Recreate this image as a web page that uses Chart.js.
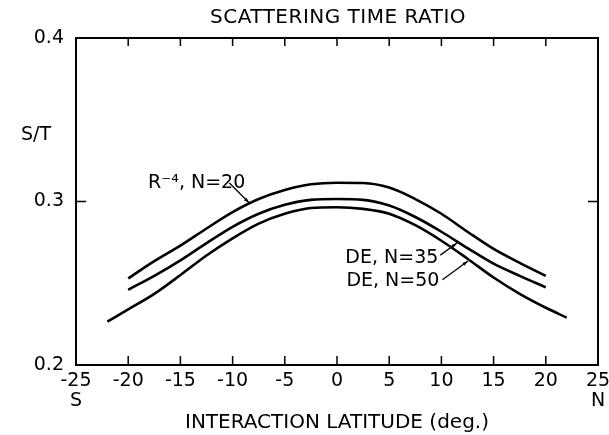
<!DOCTYPE html>
<html>
<head>
<meta charset="utf-8">
<script src="https://cdn.jsdelivr.net/npm/chart.js@4/dist/chart.umd.min.js"></script>
<style>
  html, body { margin: 0; padding: 0; background: #fff; }
  #wrap { width: 609px; height: 435px; }
</style>
</head>
<body>
<div id="wrap"><canvas id="chart" width="609" height="435"></canvas></div>
<script>
const latShort = [-20, -17.5, -15, -12.5, -10, -7.5, -5, -2.5, 0, 2.5, 5, 7.5, 10, 12.5, 15, 17.5, 20];
const latLong  = [-22, -20, -17.5, -15, -12.5, -10, -7.5, -5, -2.5, 0, 2.5, 5, 7.5, 10, 12.5, 15, 17.5, 20, 22];

// S/T
const r4N20 = [0.253, 0.2635, 0.273, 0.2835, 0.2935, 0.3015, 0.307, 0.3105, 0.3115, 0.3113, 0.3085, 0.3015, 0.2925, 0.2815, 0.271, 0.2625, 0.2545];
const deN35 = [0.246, 0.2545, 0.264, 0.2745, 0.2845, 0.2925, 0.298, 0.301, 0.3015, 0.301, 0.2975, 0.2905, 0.2815, 0.2715, 0.262, 0.2545, 0.2475];
const deN50 = [0.2265, 0.234, 0.2435, 0.255, 0.267, 0.2775, 0.2865, 0.2925, 0.296, 0.2965, 0.2955, 0.2925, 0.2855, 0.276, 0.265, 0.2535, 0.2435, 0.235, 0.229];

const xTicks = [-25, -20, -15, -10, -5, 0, 5, 10, 15, 20, 25];
const yTicks = [0.2, 0.3, 0.4];

// curve labels: text, left/middle of the text, pointer start and tip (data coords)
const curveLabels = [
  { text: 'R\u207B\u2074, N=20', at: [-18.1, 0.3113], from: [-10.3, 0.3113], tip: [-8.4, 0.2991] },
  { text: 'DE, N=35', at: [0.8, 0.2654], from: [9.9, 0.2672], tip: [11.5, 0.2746] },
  { text: 'DE, N=50', at: [0.9, 0.2514], from: [10.1, 0.2522], tip: [12.55, 0.2636] },
];

const FONT = '"DejaVu Sans", sans-serif';
const pts = (xs, ys) => xs.map((x, i) => ({ x, y: ys[i] }));

const figureDecor = {
  id: 'figureDecor',
  afterDraw(chart) {
    const { ctx, chartArea: a, scales: { x, y } } = chart;
    ctx.save();
    ctx.strokeStyle = '#000';
    ctx.fillStyle = '#000';

    // frame
    ctx.lineWidth = 2;
    ctx.strokeRect(a.left, a.top, a.right - a.left, a.bottom - a.top);

    // inward ticks
    ctx.lineWidth = 1.5;
    ctx.beginPath();
    xTicks.slice(1, -1).forEach(v => {
      const px = x.getPixelForValue(v);
      ctx.moveTo(px, a.bottom); ctx.lineTo(px, a.bottom - 9);
      ctx.moveTo(px, a.top); ctx.lineTo(px, a.top + 8);
    });
    yTicks.slice(1, -1).forEach(v => {
      const py = y.getPixelForValue(v);
      ctx.moveTo(a.left, py); ctx.lineTo(a.left + 10, py);
      ctx.moveTo(a.right, py); ctx.lineTo(a.right - 10, py);
    });
    ctx.stroke();

    // title and y label
    ctx.font = '20px ' + FONT;
    ctx.letterSpacing = '0.5px';
    ctx.textAlign = 'center';
    ctx.textBaseline = 'middle';
    ctx.fillText('SCATTERING TIME RATIO', 338, 18);
    ctx.font = '19px ' + FONT;
    ctx.letterSpacing = '0px';
    ctx.textAlign = 'left';
    ctx.fillText('S/T', 21, y.getPixelForValue(0.3405));

    // curve labels with pointers
    ctx.lineWidth = 1.3;
    curveLabels.forEach(l => {
      ctx.fillText(l.text, x.getPixelForValue(l.at[0]), y.getPixelForValue(l.at[1]));
      const fx = x.getPixelForValue(l.from[0]), fy = y.getPixelForValue(l.from[1]);
      const tx = x.getPixelForValue(l.tip[0]), ty = y.getPixelForValue(l.tip[1]);
      ctx.beginPath();
      ctx.moveTo(fx, fy); ctx.lineTo(tx, ty);
      ctx.stroke();
      const ang = Math.atan2(ty - fy, tx - fx);
      ctx.beginPath();
      ctx.moveTo(tx, ty);
      ctx.lineTo(tx - 6 * Math.cos(ang - 0.3), ty - 6 * Math.sin(ang - 0.3));
      ctx.lineTo(tx - 6 * Math.cos(ang + 0.3), ty - 6 * Math.sin(ang + 0.3));
      ctx.closePath();
      ctx.fill();
    });
    ctx.restore();
  }
};

const line = (data) => ({
  data, borderColor: '#000', borderWidth: 2.6, pointRadius: 0,
  cubicInterpolationMode: 'monotone', fill: false,
});

new Chart(document.getElementById('chart'), {
  type: 'line',
  data: {
    datasets: [
      line(pts(latShort, r4N20)),
      line(pts(latShort, deN35)),
      line(pts(latLong, deN50)),
    ],
  },
  options: {
    responsive: false,
    animation: false,
    layout: { padding: { top: 38, right: 11, left: 0, bottom: 0 } },
    plugins: { legend: { display: false }, tooltip: { enabled: false } },
    scales: {
      x: {
        type: 'linear', min: -25, max: 25,
        afterBuildTicks: s => { s.ticks = xTicks.map(v => ({ value: v })); },
        afterFit: s => { s.height = 70; s.paddingLeft = 0; s.paddingRight = 0; },
        grid: { display: false, drawTicks: false },
        border: { display: false },
        ticks: {
          padding: 6, color: '#000', maxRotation: 0,
          font: { family: FONT, size: 19, lineHeight: 1.05 },
          callback: v => v === -25 ? ['-25', 'S'] : v === 25 ? ['25', 'N'] : String(v),
        },
        title: {
          display: true, text: 'INTERACTION LATITUDE (deg.)', color: '#000',
          font: { family: FONT, size: 20 }, padding: { top: 0, bottom: 0 },
        },
      },
      y: {
        type: 'linear', min: 0.2, max: 0.4,
        afterBuildTicks: s => { s.ticks = yTicks.map(v => ({ value: v })); },
        afterFit: s => { s.width = 76; s.paddingTop = 0; s.paddingBottom = 0; },
        grid: { display: false, drawTicks: false },
        border: { display: false },
        ticks: {
          padding: 12, color: '#000',
          font: { family: FONT, size: 19 },
          callback: v => v.toFixed(1),
        },
      },
    },
  },
  plugins: [figureDecor],
});
</script>
</body>
</html>
